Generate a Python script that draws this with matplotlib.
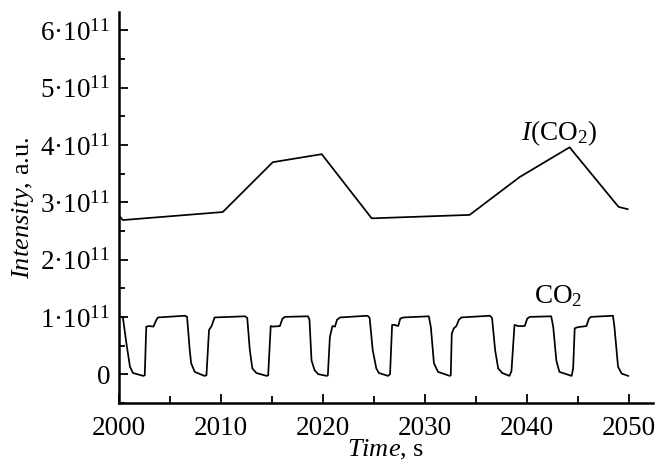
"""Intensity of CO2 signal and its integral vs time."""

import matplotlib

matplotlib.use("Agg")
import matplotlib.pyplot as plt
from matplotlib.ticker import FuncFormatter, MultipleLocator

# integral intensity I(CO2), units of 1e11
int_t = [2000.0, 2000.4, 2010.2, 2015.1, 2019.9, 2024.8, 2034.4, 2039.3,
         2044.2, 2049.0, 2049.9]
int_y = [2.77, 2.69, 2.83, 3.70, 3.84, 2.72, 2.78, 3.44, 3.96, 2.92, 2.88]

# CO2 signal, units of 1e11
co2_t = [2000.0, 2000.4, 2000.75, 2001.1, 2001.4, 2002.4, 2002.55, 2002.7,
         2003.0, 2003.4, 2003.7, 2003.85, 2006.5, 2006.7, 2006.96, 2007.1,
         2007.45, 2008.4, 2008.6, 2008.85, 2009.1, 2009.4, 2012.4, 2012.6,
         2012.85, 2013.1, 2013.5, 2014.5, 2014.65, 2014.9, 2015.1, 2015.8,
         2016.05, 2016.3, 2018.55, 2018.7, 2018.9, 2019.2, 2019.55, 2020.4,
         2020.5, 2020.7, 2020.95, 2021.2, 2021.4, 2021.7, 2024.4, 2024.6,
         2024.9, 2025.25, 2025.5, 2026.4, 2026.6, 2026.8, 2027.05, 2027.4,
         2027.6, 2027.9, 2030.4, 2030.6, 2030.9, 2031.3, 2032.45, 2032.55,
         2032.65, 2032.85, 2033.1, 2033.35, 2033.6, 2036.4, 2036.6, 2036.9,
         2037.2, 2037.6, 2038.3, 2038.5, 2038.8, 2039.15, 2039.8, 2040.05,
         2040.3, 2042.4, 2042.6, 2042.9, 2043.2, 2044.4, 2044.55, 2044.7,
         2045.0, 2045.85, 2046.1, 2046.3, 2048.45, 2048.6, 2048.95, 2049.3,
         2049.95]
co2_y = [1.00, 1.00, 0.54, 0.13, 0.02, -0.03, -0.02, 0.83,
         0.84, 0.83, 0.95, 0.99, 1.02, 1.00, 0.42, 0.19,
         0.04, -0.03, -0.02, 0.77, 0.84, 0.99, 1.01, 0.98,
         0.42, 0.10, 0.02, -0.03, -0.02, 0.84, 0.83, 0.84,
         0.97, 1.00, 1.01, 0.95, 0.24, 0.07, 0.00, -0.03,
         -0.02, 0.65, 0.84, 0.83, 0.95, 0.99, 1.02, 0.98,
         0.42, 0.10, 0.02, -0.03, 0.00, 0.86, 0.86, 0.84,
         0.97, 0.99, 1.01, 0.82, 0.19, 0.04, -0.03, -0.02,
         0.71, 0.80, 0.84, 0.95, 0.99, 1.02, 0.98, 0.42,
         0.10, 0.02, -0.03, 0.05, 0.86, 0.84, 0.84, 0.97,
         1.00, 1.01, 0.82, 0.24, 0.04, -0.03, 0.10, 0.80,
         0.82, 0.84, 0.97, 1.00, 1.02, 0.82, 0.13, 0.01,
         -0.03]

x_major = [2000, 2010, 2020, 2030, 2040, 2050]
y_major = [0, 1, 2, 3, 4, 5, 6]

plt.rcParams["font.family"] = ["Liberation Serif", "DejaVu Serif"]
plt.rcParams["mathtext.fontset"] = "custom"
plt.rcParams["mathtext.rm"] = "Liberation Serif"
plt.rcParams["mathtext.it"] = "Liberation Serif:italic"

fig = plt.figure(figsize=(6.56, 4.65), dpi=100)
ax = fig.add_axes([0.181, 0.133, 0.814, 0.841])

ax.plot(int_t, int_y, color="black", lw=1.25)
ax.plot(co2_t, co2_y, color="black", lw=1.25)

ax.set_xlim(2000, 2052.35)
ax.set_ylim(-0.506, 6.32)

ax.set_xticks(x_major)
ax.xaxis.set_minor_locator(MultipleLocator(5))
ax.set_yticks(y_major)
ax.yaxis.set_minor_locator(MultipleLocator(0.5))


def ylab(v, pos):
    if v == 0:
        return "0"
    return "%d\u00b710$^{11}$" % v


ax.yaxis.set_major_formatter(FuncFormatter(ylab))

for side in ["top", "right"]:
    ax.spines[side].set_visible(False)
for side in ["left", "bottom"]:
    ax.spines[side].set_linewidth(1.8)

ax.tick_params(which="both", direction="in", width=1.3, labelsize=19.5)
ax.tick_params(axis="y", which="major", length=6.5, pad=6)
ax.tick_params(axis="y", which="minor", length=4.3)
ax.tick_params(axis="x", which="major", length=6.5, pad=9)
ax.tick_params(axis="x", which="minor", length=5)

ax.set_xlabel(r"$\mathit{Time}$, s", fontsize=19, labelpad=-2)
ax.set_ylabel(r"$\mathit{Intensity}$, a.u.", fontsize=19, labelpad=3)

ax.text(2043.2, 4.2, r"$\mathit{I}$(CO$_2$)", fontsize=19.5,
        ha="center", va="center")
ax.text(2043.1, 1.36, r"CO$_2$", fontsize=19.5, ha="center", va="center")

fig.savefig("out.png", dpi=100)
